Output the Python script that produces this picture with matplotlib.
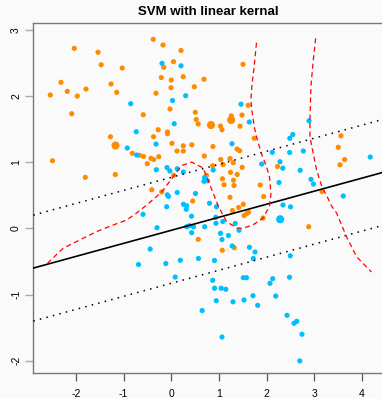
import matplotlib
matplotlib.use("Agg")
import matplotlib.pyplot as plt

plt.rcParams['font.family'] = ['Liberation Sans', 'DejaVu Sans']

# training points, class 0 (orange)
orange_x = [-0.378, -0.174, -2.036, -1.538, 0.204, 0.046, -1.471, -0.159, -1.030, 1.505,
            -2.315, -0.210, 0.000, 0.250, 0.686, -1.265, -2.183, -1.790, -2.539, -1.973,
            -1.146, -0.321, -0.006, 0.483, 1.614, -0.027, 0.504, -2.090, -0.588, 0.523,
            0.565, 0.833, 1.033, 1.064, 1.259, 1.257, 1.484, 1.442, -0.275, -0.080,
            -0.080, -1.276, -0.374, 1.740, 0.015, 0.252, 0.430, -1.171, 0.120, 0.252,
            0.875, -0.818, -0.667, -0.583, -0.426, -0.369, -0.264, -0.504, -2.493, -1.805,
            -1.175, 0.050, -0.411, -0.201, 0.449, 0.565, 1.070, 1.322, 0.693, 1.037,
            1.085, 0.869, 1.232, 1.301, 1.379, 1.435, 1.488, 2.229, 1.242, 1.383,
            1.074, 1.305, 1.106, 1.316, 1.866, 1.232, 1.939, 1.414, 1.511, 1.284,
            1.526, 1.582, 1.620, 1.924, 2.884, 3.163, 3.561, 3.505, 3.639, 3.540,
            0.739]
orange_y = [2.855, 2.769, 2.719, 2.659, 2.686, 2.517, 2.471, 2.432, 2.421, 2.477,
            2.205, 2.278, 2.240, 2.290, 2.252, 2.180, 2.069, 2.104, 2.014, 1.998,
            2.054, 2.041, 2.124, 2.139, 1.858, 1.802, 1.752, 1.731, 1.716, 1.644,
            1.576, 1.560, 1.545, 1.489, 1.699, 1.636, 1.711, 1.542, 1.489, 1.455,
            1.429, 1.384, 1.384, 1.360, 1.284, 1.246, 1.261, 1.251, 1.168, 1.168,
            1.236, 1.133, 1.103, 1.085, 1.057, 1.039, 1.082, 0.976, 1.021, 0.770,
            0.813, 0.801, 0.582, 0.551, 0.412, -0.166, -0.332, -0.293, 1.092, 1.039,
            0.964, 0.946, 1.054, 0.991, 1.198, 1.172, 0.921, 0.934, 0.846, 0.813,
            0.748, 0.727, 0.659, 0.647, 0.654, 0.468, 0.480, 0.314, 0.363, 0.269,
            0.193, 0.221, 0.242, 0.156, 0.024, 0.556, 1.397, 1.224, 1.039, 0.959,
            0.798]
orange_big = [31, 35, 47]

# training points, class 1 (blue)
blue_x = [-0.195, 0.204, 0.025, 0.302, -0.852, 0.061, -0.735, -0.321, -0.923, -0.726,
          1.463, 1.637, 2.890, -0.315, -0.090, 0.126, -0.031, 0.252, 0.879, 0.697,
          0.686, 0.760, -0.084, -0.059, 0.124, 0.508, 1.274, 2.550, 2.487, 2.120,
          2.485, 2.770, 2.281, 1.897, 2.340, 2.705, 2.260, 2.932, 2.984, 4.176,
          3.610, -0.097, 0.256, 0.323, 0.315, 0.802, 0.949, -0.594, 0.424, 0.938,
          0.932, 1.081, 0.323, 0.382, 0.466, 0.701, -0.300, 0.428, 1.033, 1.064,
          1.200, 1.421, 1.343, 2.285, 2.344, 2.502, -0.443, 0.189, 0.571, 0.907,
          -0.115, -0.688, 1.278, 1.641, 1.757, 1.721, 2.497, 0.082, 0.869, 1.511,
          1.578, 2.128, 2.071, 2.481, 0.907, 1.047, 1.144, 0.944, 1.295, 1.526,
          1.715, 1.813, 2.191, 0.648, 2.428, 2.632, 2.575, 2.743, 1.064, 2.697]
blue_y = [2.492, 2.455, 1.931, 2.003, 1.882, 1.580, 1.459, 1.273, 1.213, 1.107,
          1.875, 1.606, 1.624, 0.885, 0.918, 0.900, 0.866, 0.850, 0.881, 0.767,
          0.710, 0.718, 0.506, 0.483, 0.541, 0.526, 1.278, 1.417, 1.360, 1.148,
          1.145, 1.168, 1.006, 0.971, 0.908, 0.876, 0.692, 0.740, 0.669, 1.077,
          0.488, 0.326, 0.363, 0.340, 0.287, 0.378, 0.326, 0.211, 0.183, 0.076,
          0.166, 0.103, 0.024, 0.039, 0.024, 0.024, 0.009, -0.066, -0.076, -0.169,
          -0.109, -0.029, 0.073, 0.137, 0.352, 0.325, -0.313, -0.483, -0.456, -0.486,
          -0.532, -0.547, -0.267, -0.287, -0.358, -0.456, -0.415, -0.736, -0.785, -0.746,
          -0.746, -0.761, -0.831, -0.739, -0.905, -0.905, -0.921, -1.094, -1.110, -1.083,
          -1.018, -1.163, -1.023, -1.242, -1.314, -1.405, -1.435, -1.600, -1.642, -2.002]
blue_big = [63]

# fitted linear SVM: intercept, slope and half-width of the margin
svm_intercept = -0.03
svm_slope = 0.197
svm_margin = 0.80

# Bayes decision boundary, two branches
bayes1_x = [-2.60, -2.27, -1.85, -1.57, -1.22, -0.94, -0.73, -0.52, -0.31, -0.20,
            0.04, 0.22, 0.43, 0.67, 0.77, 0.88, 0.99, 1.16, 1.38, 1.50,
            1.71, 1.92, 2.06, 2.09, 2.08, 2.06, 2.00, 1.90, 1.85, 1.79,
            1.74, 1.69, 1.67, 1.69, 1.74, 1.79]
bayes1_y = [-0.53, -0.30, -0.15, -0.05, 0.05, 0.125, 0.23, 0.35, 0.48, 0.55,
            0.78, 0.95, 1.00, 0.91, 0.73, 0.53, 0.33, 0.10, 0.005, 0.00,
            0.05, 0.15, 0.33, 0.50, 0.63, 0.78, 0.93, 1.11, 1.23, 1.38,
            1.54, 1.79, 1.94, 2.14, 2.45, 2.82]
bayes2_x = [3.03, 2.98, 2.93, 2.91, 2.91, 2.98, 3.05, 3.16, 3.27, 3.37,
            3.47, 3.68, 3.89, 4.20]
bayes2_y = [2.87, 2.54, 2.14, 1.64, 1.38, 1.13, 0.88, 0.63, 0.48, 0.33,
            0.23, -0.13, -0.43, -0.66]

x_ticks = [-2, -1, 0, 1, 2, 3, 4]
y_ticks = [-2, -1, 0, 1, 2, 3]

ORANGE = '#FF8C00'
BLUE = '#00BFFF'
BG = '#FAFAFA'

fig = plt.figure(figsize=(3.82, 3.99), dpi=100, facecolor=BG)
ax = fig.add_axes([0.0872, 0.0644, 0.918, 0.8772], facecolor=BG)

o_sizes = [34 if i in orange_big else 14 for i in range(len(orange_x))]
b_sizes = [34 if i in blue_big else 14 for i in range(len(blue_x))]
ax.scatter(orange_x, orange_y, s=o_sizes, c=ORANGE, linewidths=0, zorder=2)
ax.scatter(blue_x, blue_y, s=b_sizes, c=BLUE, linewidths=0, zorder=2)

# separating hyperplane and margins
ax.axline((0, svm_intercept), slope=svm_slope, color='black', lw=1.2, zorder=3)
for off in (svm_margin, -svm_margin):
    ax.axline((0, svm_intercept + off), slope=svm_slope, color='black',
              lw=1.1, linestyle=(0, (1, 3.4)), zorder=3)

ax.plot(bayes1_x, bayes1_y, color='red', lw=0.9, linestyle=(0, (4, 2.8)), zorder=3)
ax.plot(bayes2_x, bayes2_y, color='red', lw=0.9, linestyle=(0, (4, 2.8)), zorder=3)

ax.set_xlim(-2.896, 4.464)
ax.set_ylim(-2.19, 3.097)
ax.set_xticks(x_ticks)
ax.set_yticks(y_ticks)
ax.set_xticklabels([str(v) for v in x_ticks], fontsize=7.5)
ax.set_yticklabels([str(v) for v in y_ticks], fontsize=7.5, rotation=90, va='center')
ax.tick_params(axis='x', length=5.8, width=0.9, color='#555555', pad=5.5)
ax.tick_params(axis='y', length=5.8, width=1.0, color='#aaaaaa', pad=3)

for side in ('left', 'bottom', 'top'):
    ax.spines[side].set_color('#777777')
    ax.spines[side].set_linewidth(1.0)
ax.spines['right'].set_visible(False)

ax.set_title('SVM with linear kernal', fontsize=9.5, fontweight='bold', pad=6)

fig.savefig('out.png', dpi=100, facecolor=BG)
